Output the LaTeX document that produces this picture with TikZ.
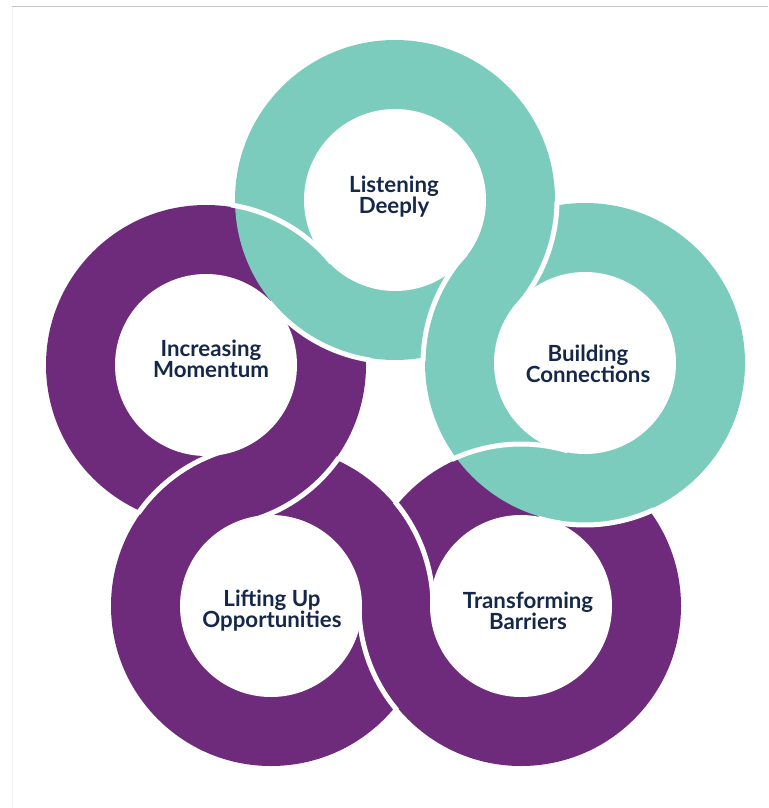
\documentclass[tikz,border=0pt]{standalone}
\usepackage{fontspec}
\setmainfont{Lato}

\definecolor{ringPurple}{HTML}{6E2A7B}
\definecolor{ringTeal}{HTML}{7CCCBE}
\definecolor{textNavy}{HTML}{15284A}

\begin{document}
\begin{tikzpicture}[x=0.3mm,y=-0.3mm,
	gap/.style={draw=white, line width=1.5mm},
	lbl/.style={text=textNavy, align=center, inner sep=0pt, font=\bfseries\fontsize{19}{18}\selectfont}]

	\def\rOut{160}
	\def\rIn{91}
	\def\rGap{\rOut+2}

	\useasboundingbox (0,0) rectangle (768,808);

	%MARCO
	\draw[draw=black!22, line width=0.3mm] (12,7) -- (768,7);
	\draw[draw=black!6, line width=0.3mm] (12,7) -- (12,808);

	%ANILLOS
	\foreach \cx/\cy in {206/365, 271/606, 521/606}
		\fill[ringPurple] (\cx,\cy) circle[radius=\rOut];
	\foreach \cx/\cy in {395/200, 585/363}
		\fill[ringTeal] (\cx,\cy) circle[radius=\rOut];
	\foreach \cx/\cy in {395/200, 585/363, 521/606, 271/606, 206/365}
		\fill[white] (\cx,\cy) circle[radius=\rIn];

	%CORTES
	\foreach \ax/\ay/\bx/\by in {395/200/585/363, 585/363/521/606, 521/606/271/606, 271/606/206/365, 206/365/395/200}{
		\pgfmathsetmacro{\dirA}{atan2(\by-\ay,\bx-\ax)}
		\pgfmathsetmacro{\dirAs}{\dirA-40}
		\pgfmathsetmacro{\dirAe}{\dirA+2}
		\pgfmathsetmacro{\dirBs}{\dirA+140}
		\pgfmathsetmacro{\dirBe}{\dirA+182}
		\draw[gap] plot[domain=\dirAs:\dirAe, samples=30] ({\ax+(\rGap)*cos(\x)},{\ay+(\rGap)*sin(\x)});
		\draw[gap] plot[domain=\dirBs:\dirBe, samples=30] ({\bx+(\rGap)*cos(\x)},{\by+(\rGap)*sin(\x)});
	}

	%ETIQUETAS
	\node[lbl] (lblEscucha) at (394,197) {Listening\\Deeply};
	\node[lbl] (lblConexion) at (588,364) {Building\\Connections};
	\node[lbl] (lblImpulso) at (211,359) {Increasing\\Momentum};
	\node[lbl] (lblOportunidad) at (272,611) {Lifting Up\\Opportunities};
	\node[lbl] (lblBarrera) at (528,611) {Transforming\\Barriers};

\end{tikzpicture}
\end{document}
